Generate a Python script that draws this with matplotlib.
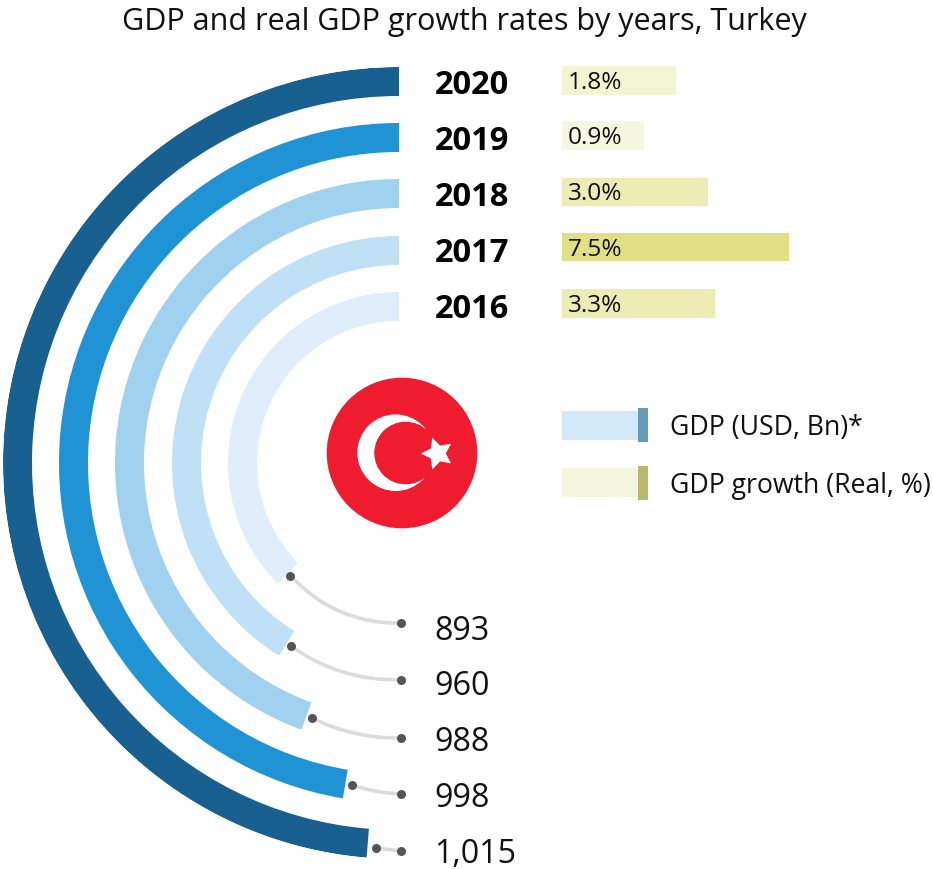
import numpy as np
import matplotlib
matplotlib.use("Agg")
import matplotlib.pyplot as plt
from matplotlib.patches import Circle, Rectangle

years = ["2020", "2019", "2018", "2017", "2016"]
gdp_labels = ["1,015", "998", "988", "960", "893"]
arc_sweep_deg = [175.3, 170.5, 159.9, 148.1, 134.8]
growth = [1.8, 0.9, 3.0, 7.5, 3.3]
growth_labels = ["1.8%", "0.9%", "3.0%", "7.5%", "3.3%"]
arc_colors = ["#18608f", "#2093d5", "#a0d2ef", "#c0e0f5", "#dfeefa"]
bar_colors = ["#f2f4d2", "#f6f7e2", "#ecedb5", "#e0e084", "#ecedb5"]

W, H = 933, 869
plt.rcParams["font.family"] = ["Open Sans", "DejaVu Sans"]
fig = plt.figure(figsize=(W / 100, H / 100), dpi=100)

# radial bars
cx, cy, rmax = 399, 463, 396
ax_arc = fig.add_axes([(cx - rmax) / W, 1 - (cy + rmax) / H, 2 * rmax / W, 2 * rmax / H], projection="polar")
ax_arc.set_theta_zero_location("N")
ax_arc.set_theta_direction(1)
ax_arc.set_rlim(0, rmax)
ax_arc.axis("off")
radii = [367, 311, 255, 198, 142]
band = 29
for r, sweep, c in zip(radii, arc_sweep_deg, arc_colors):
    ax_arc.bar(0, band, width=np.radians(sweep), bottom=r, align="edge", color=c, linewidth=0)
ax_arc.set_rlim(0, rmax)

# growth bars, length follows a power scale
bar_y = [80.5, 135.5, 192, 247, 303.5]
ax_bar = fig.add_axes([562 / W, 0, 227 / W, 1], facecolor="none")
ax_bar.set_xscale("function", functions=(lambda v: np.power(v, 0.48), lambda v: np.power(v, 1 / 0.48)))
ax_bar.barh(bar_y, growth, height=28.5, color=bar_colors, linewidth=0)
ax_bar.set_xlim(0, 7.5)
ax_bar.set_ylim(H, 0)
ax_bar.axis("off")

# everything else is placed in pixel coordinates
ax = fig.add_axes([0, 0, 1, 1], facecolor="none", zorder=5)
ax.set_xlim(0, W)
ax.set_ylim(H, 0)
ax.axis("off")

ax.text(464, 30, "GDP and real GDP growth rates by years, Turkey", fontsize=22, ha="center", va="baseline", color="#111111")

year_base = [94.3, 150, 206.5, 262.5, 318.5]
pct_base = [89.3, 144.3, 200.3, 256, 311.7]
for y1, y2, yr, lab in zip(year_base, pct_base, years, growth_labels):
    ax.text(435, y1, yr, fontsize=23.5, fontweight="bold", color="black", va="baseline")
    ax.text(567.5, y2, lab, fontsize=17.6, color="#111111", va="baseline")

# leaders from the arc ends to the values
leader_y = [850.7, 794, 738, 679.7, 623.3]
val_base = [862.7, 807.3, 751.3, 695.3, 639.5]
bends = [0.03, 0.07, 0.12, 0.17, 0.22]
for r, sweep, ly, vy, lab, rad in zip(radii, arc_sweep_deg, leader_y, val_base, gdp_labels, bends):
    a = np.radians(sweep + 1.25)
    rm = r + band / 2 + (4 if sweep > 175 else 0)
    sx, sy = cx - rm * np.sin(a), cy - rm * np.cos(a)
    ax.annotate("", xy=(401, ly), xytext=(sx, sy), zorder=2,
                arrowprops=dict(arrowstyle="-", color="#dcdcdc", lw=2.6, shrinkA=0, shrinkB=0,
                                connectionstyle="arc3,rad=%.2f" % rad))
    ax.plot([sx, 401], [sy, ly], "o", color="#555555", ms=6.5, mew=0, zorder=3)
    ax.text(434.5, vy, lab, fontsize=23.2, color="#111111", va="baseline")

# flag
ax.add_patch(Circle((402, 453), 75.3, color="#ee1c2e", lw=0))
ax.add_patch(Circle((395.6, 452.7), 38.3, color="white", lw=0))
ax.add_patch(Circle((405.6, 453), 31.3, color="#ee1c2e", lw=0))
ax.plot([436.5], [452.5], marker=(5, 1, 90), ms=24, color="white", mew=0)

# legend
ax.add_patch(Rectangle((562, 411), 76, 29, color="#d4e9f7", lw=0))
ax.add_patch(Rectangle((638, 408), 10, 34, color="#6698b8", lw=0))
ax.add_patch(Rectangle((562, 468), 76, 29, color="#f5f6e0", lw=0))
ax.add_patch(Rectangle((638, 466), 10, 34, color="#b8b96e", lw=0))
ax.text(670, 435, "GDP (USD, Bn)*", fontsize=19.2, color="#111111", va="baseline")
ax.text(670, 493, "GDP growth (Real, %)", fontsize=19.2, color="#111111", va="baseline")

fig.savefig("out.png", dpi=100)
